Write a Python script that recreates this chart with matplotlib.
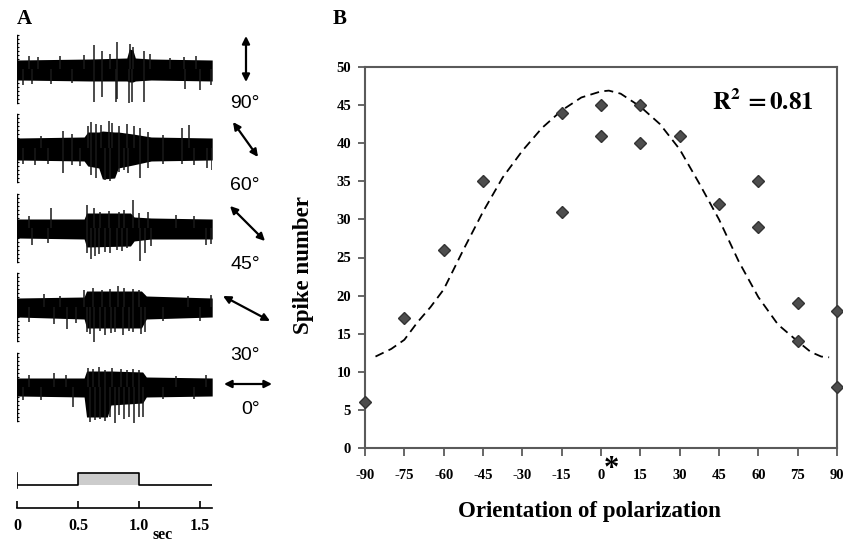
import matplotlib.pyplot as plt
from matplotlib.patches import FancyArrowPatch
import numpy as np

plt.rcParams['mathtext.fontset'] = 'stix'
plt.rcParams['axes.unicode_minus'] = False

# ---- panel B data ----
orient = [-90, -75, -60, -45, -15, -15, 0, 0, 15, 15, 30, 45, 60, 60, 75, 75, 90, 90]
spike_num = [6, 17, 26, 35, 44, 31, 45, 41, 45, 40, 41, 32, 35, 29, 19, 14, 18, 8]

fit_x = [-86, -80, -75, -70, -65, -60, -52.5, -45, -37.5, -30, -22.5, -15, -7.5, 0, 3,
         7.5, 15, 22.5, 30, 37.5, 45, 52.5, 60, 67.5, 75, 80, 84, 87]
fit_y = [12.0, 13.0, 14.2, 16.5, 18.5, 20.8, 26, 31, 35.5, 39, 42, 44.3, 46, 46.8, 46.9,
         46.5, 44.8, 42.5, 39.2, 34.7, 30, 24.5, 19.8, 16.2, 14.0, 12.6, 12.0, 11.9]

# ---- panel A data (envelope of the dense band + single spikes) ----
trace_labels = ['90°', '60°', '45°', '30°', '0°']

env_t = [
    [0, 0.6, 0.9, 0.92, 0.95, 0.97, 1.1, 1.6],
    [0, 0.55, 0.58, 0.67, 0.70, 0.80, 0.83, 0.95, 1.1, 1.6],
    [0, 0.55, 0.57, 0.93, 0.96, 1.1, 1.6],
    [0, 0.55, 0.57, 1.02, 1.06, 1.6],
    [0, 0.55, 0.57, 0.74, 0.77, 1.03, 1.06, 1.6],
]
env_up = [
    [9, 10, 11, 20, 19, 11, 10, 9],
    [10, 11, 16, 16, 17, 16, 16, 14, 11, 10],
    [9, 9, 15, 15, 11, 10, 9],
    [9, 10, 16, 16, 11, 9],
    [9, 9, 16, 16, 16, 15, 10, 9],
]
env_lo = [
    [-11, -12, -12, -13, -13, -12, -11, -12],
    [-12, -13, -18, -20, -31, -30, -20, -17, -13, -12],
    [-10, -11, -19, -18, -13, -11, -11],
    [-10, -12, -21, -21, -12, -10],
    [-9, -10, -30, -30, -18, -16, -10, -9],
]
spike_t = [
    [0.63, 0.70, 0.81, 0.82, 0.92, 0.94, 1.04, 1.38, 1.50, 1.59, 0.05, 0.12, 0.28, 0.45,
     0.63, 0.70, 0.82, 0.93, 0.95, 1.04, 1.09, 0.35, 0.17, 1.37, 1.47, 0.10, 0.55, 0.76, 1.25],
    [0.38, 0.61, 0.65, 0.72, 0.76, 0.84, 0.88, 0.91, 1.01, 1.07, 1.56, 1.60, 0.05, 0.15,
     0.25, 0.45, 0.52, 1.20, 1.35, 1.45,
     0.38, 0.58, 0.61, 0.65, 0.69, 0.75, 0.78, 0.84, 0.90, 0.96, 1.01, 1.07, 1.35, 1.41,
     1.20, 0.20, 0.45],
    [0.57, 0.61, 0.64, 0.67, 0.72, 0.76, 0.82, 0.86, 0.90, 1.01, 1.05, 1.10, 0.12, 0.25,
     1.55, 1.59,
     0.28, 0.57, 0.63, 0.68, 0.75, 0.84, 0.88, 0.95, 1.00, 1.07, 1.30, 0.10, 1.45],
    [0.41, 0.57, 0.60, 0.63, 0.68, 0.72, 0.77, 0.80, 0.87, 0.92, 0.95, 1.02, 1.05, 0.10,
     0.30, 0.48, 1.20, 1.50,
     0.22, 0.55, 0.62, 0.70, 0.76, 0.83, 0.88, 0.95, 1.00, 1.40, 1.59, 0.35],
    [0.46, 0.60, 0.64, 0.68, 0.72, 0.76, 0.80, 0.84, 0.88, 0.92, 0.96, 1.00, 1.03, 0.05,
     0.20, 1.20, 1.45,
     0.30, 0.58, 0.62, 0.67, 0.72, 0.78, 0.85, 0.90, 0.95, 1.00, 0.10, 0.40, 1.30, 1.55],
]
spike_v = [
    [-33, -28, -33, -30, -34, -33, -33, -20, -21, -16, -16, -15, -15, -14,
     24, 18, 27, 25, 22, 18, 15, 13, 12, 12, 13, 13, 14, 15, 11],
    [-25, -27, -30, -32, -33, -24, -22, -25, -30, -20, -20, -22, -16, -17,
     -16, -17, -18, -16, -16, -17,
     17, 22, 26, 24, 23, 27, 25, 22, 24, 22, 20, 16, 20, 23, 13, 12, 14],
    [-25, -31, -28, -26, -24, -25, -22, -23, -20, -33, -25, -18, -17, -15, -17, -16,
     20, 23, 20, 16, 17, 16, 18, 28, 15, 16, 13, 12, 12],
    [-22, -25, -27, -35, -24, -28, -26, -25, -28, -24, -25, -27, -25, -15, -17, -16, -14, -14,
     13, 17, 19, 17, 18, 21, 19, 18, 17, 11, 12, 11],
    [-20, -35, -33, -32, -34, -30, -41, -28, -32, -30, -36, -30, -30, -13, -13, -12, -12,
     14, 19, 18, 20, 17, 19, 18, 17, 18, 17, 12, 12, 11, 12],
]

stim_t = [0, 0.5, 0.5, 1.0, 1.0, 1.6]
stim_v = [0, 0, 1, 1, 0, 0]
time_ticks = [0, 0.5, 1.0, 1.5]
time_labels = ['0', '0.5', '1.0', '1.5']

W, H = 843, 544
fig = plt.figure(figsize=(W / 100, H / 100), dpi=100)


def box(x0, y0, x1, y1):
    return [x0 / W, 1 - y1 / H, (x1 - x0) / W, (y1 - y0) / H]


def fpos(x, y):
    return (x / W, 1 - y / H)


serif = 'Liberation Serif'
sans = 'Liberation Sans'

# ---------------- panel A ----------------
centers = [69, 148, 228, 307, 387]
x_left, x_right = 17, 17 + 1.6 * 122
for i, c in enumerate(centers):
    ax = fig.add_axes(box(x_left, c - 36, x_right, c + 36))
    ax.set_xlim(0, 1.6)
    ax.set_ylim(-36, 36)
    ax.axis('off')
    ax.fill_between(env_t[i], env_lo[i], env_up[i], color='black', lw=0)
    ax.vlines(spike_t[i], 0, spike_v[i], color='#1a1a1a', lw=1.1)
    # scale bar at the left edge
    ax.plot([0, 0], [-34, 34], color='black', lw=1)
    ax.plot(np.zeros(18), np.linspace(-34, 34, 18), ls='none', marker='_', ms=3,
            mew=0.8, color='black')

# stimulus trace
ax_s = fig.add_axes(box(x_left, 467, x_right, 491))
ax_s.set_xlim(0, 1.6)
ax_s.set_ylim(-0.5, 1.5)
ax_s.axis('off')
ax_s.fill_between(stim_t, 0, stim_v, color='#cccccc', lw=0)
ax_s.plot(stim_t, stim_v, color='black', lw=1.2)
ax_s.plot([0, 0], [1, -0.25], color='black', lw=1.2)

# time axis
ax_t = fig.add_axes(box(x_left, 488, x_right, 508))
ax_t.set_xlim(0, 1.6)
for s in ['top', 'left', 'right']:
    ax_t.spines[s].set_visible(False)
ax_t.spines['bottom'].set_linewidth(1.2)
ax_t.set_yticks([])
ax_t.set_xticks(time_ticks)
ax_t.set_xticklabels(time_labels, fontfamily=serif, fontweight='bold', fontsize=11.5)
ax_t.tick_params(axis='x', direction='in', length=5, width=1.2, pad=7)
ax_t.patch.set_alpha(0)
fig.text(*fpos(163, 535), 'sec', fontfamily=serif, fontweight='bold', fontsize=11.5,
         ha='center', va='center')

# orientation arrows and labels
arrows = [((246, 36), (246, 82)), ((233, 122), (258, 157)), ((230, 206), (265, 241)),
          ((223, 296), (270, 321)), ((224, 384), (272, 384))]
label_pos = [(245, 104), (245, 186), (245, 265), (245, 355), (251, 410)]
for (a, b), lp, lab in zip(arrows, label_pos, trace_labels):
    fig.add_artist(FancyArrowPatch(fpos(*a), fpos(*b), transform=fig.transFigure,
                                   arrowstyle='<|-|>', mutation_scale=11, lw=1.6,
                                   color='black', shrinkA=0, shrinkB=0))
    fig.text(*fpos(*lp), lab, fontfamily=sans, fontsize=14, ha='center', va='center')

fig.text(*fpos(24, 19), 'A', fontfamily=serif, fontweight='bold', fontsize=15,
         ha='center', va='center')

# ---------------- panel B ----------------
axB = fig.add_axes(box(365, 67, 837, 448))
axB.plot(fit_x, fit_y, color='black', lw=1.3, dashes=(5, 3))
axB.plot(orient, spike_num, ls='none', marker='D', ms=6.5, color='#4d4d4d',
         mec='#333333', clip_on=False, zorder=3)
axB.set_xlim(-90, 90)
axB.set_ylim(0, 50)
axB.set_xticks(range(-90, 91, 15))
axB.set_yticks(range(0, 51, 5))
for s in axB.spines.values():
    s.set_color('#5a5a5a')
    s.set_linewidth(1.5)
axB.tick_params(axis='x', length=6, width=1.3, color='#5a5a5a', pad=9)
axB.tick_params(axis='y', length=5, width=1.3, color='#5a5a5a', pad=5)
for lab in axB.get_xticklabels() + axB.get_yticklabels():
    lab.set_fontfamily(serif)
    lab.set_fontweight('bold')
    lab.set_fontsize(10.5)

fig.text(*fpos(589, 512), 'Orientation of polarization', fontfamily=serif,
         fontweight='bold', fontsize=16.5, ha='center', va='center')
fig.text(*fpos(303, 265), 'Spike number', fontfamily=serif, fontweight='bold',
         fontsize=16.5, ha='center', va='center', rotation=90)
fig.text(*fpos(712, 110), r'$\mathbf{R^{2}\,{=}0.81}$', fontsize=18, ha='left',
         va='baseline')
fig.text(*fpos(611, 470), '*', fontfamily=serif, fontweight='bold', fontsize=22,
         ha='center', va='center')
fig.text(*fpos(340, 19), 'B', fontfamily=serif, fontweight='bold', fontsize=15,
         ha='center', va='center')

fig.savefig('out.png', dpi=100, facecolor='white')
